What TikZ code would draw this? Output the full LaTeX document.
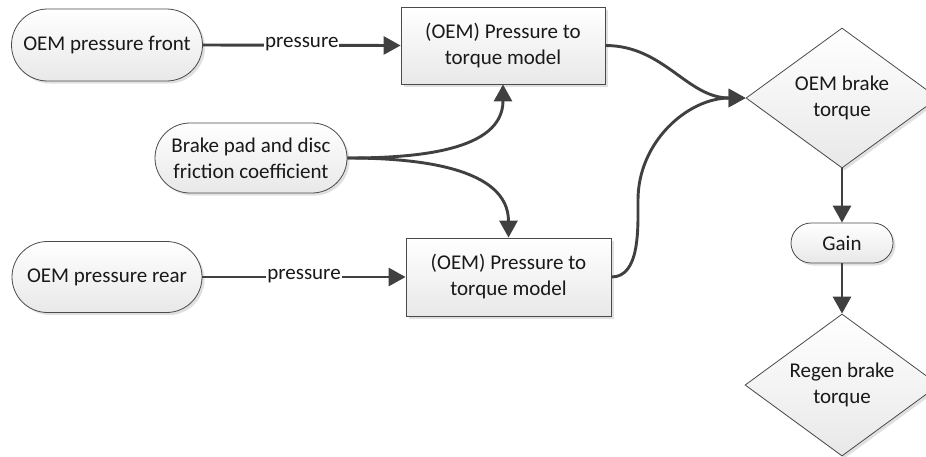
\documentclass[tikz,border=0pt]{standalone}
\usepackage{fontspec}
\setmainfont{Carlito}
\usetikzlibrary{shapes.geometric,shapes.misc,arrows.meta,shadows}
\definecolor{edge}{HTML}{404040}
\definecolor{outline}{HTML}{4A4A4A}
\begin{document}
\begin{tikzpicture}[x=1pt,y=-1pt,
  base/.style={draw=outline,line width=0.8pt,top color=white,bottom color=black!9,
    font=\fontsize{21}{26}\selectfont,align=center,text=black!90,inner sep=0pt,
    drop shadow={shadow xshift=2.5pt,shadow yshift=-2.5pt,fill=black,opacity=0.12}},
  term/.style={base,rounded rectangle},
  proc/.style={base,rectangle},
  decide/.style={base,diamond,aspect=1.37},
  flow/.style={draw=edge,line width=2.9pt,-{Triangle[length=17pt,width=18pt]}},
  lbl/.style={fill=white,font=\fontsize{21}{26}\selectfont,text=black!90,inner sep=1pt,anchor=mid}]
\useasboundingbox (0,0) rectangle (926,456);

% sources
\node[term,minimum width=191pt,minimum height=72pt] (front) at (107,45) {OEM pressure front};
\node[term,minimum width=192pt,minimum height=70pt] (pad) at (251,158) {Brake pad and disc\\friction coefficient};
\node[term,minimum width=190pt,minimum height=71pt] (rear) at (107,277) {OEM pressure rear};

% torque models
\node[proc,minimum width=204pt,minimum height=77pt] (mfront) at (503,45.5) {(OEM) Pressure to\\torque model};
\node[proc,minimum width=205pt,minimum height=78pt] (mrear) at (508.5,277) {(OEM) Pressure to\\torque model};

% outputs
\node[decide,minimum width=192pt,minimum height=140pt] (oem) at (842,98) {OEM brake\\torque};
\node[term,minimum width=102pt,minimum height=40pt] (gain) at (842,243) {Gain};
\node[decide,minimum width=194pt,minimum height=142pt] (regen) at (842,385) {Regen brake\\torque};

% connectors
\draw[flow] (front.east) -- node[lbl] {pressure} (mfront.west);
\draw[flow] (rear.east) -- node[lbl] {pressure} (mrear.west);
\draw[flow] (pad.east) to[out=0,in=-90] (mfront.south);
\draw[flow] (pad.east) to[out=0,in=90] (mrear.north);
\draw[flow] (mfront.east) to[out=0,in=180] (oem.west);
\coordinate (bend) at (638,200);
\draw[flow] (mrear.east) to[out=0,in=-90,looseness=0.9] (bend) to[out=90,in=180] (oem.west);
\draw[flow] (oem.south) -- (gain.north);
\draw[flow] (gain.south) -- (regen.north);
\end{tikzpicture}
\end{document}
